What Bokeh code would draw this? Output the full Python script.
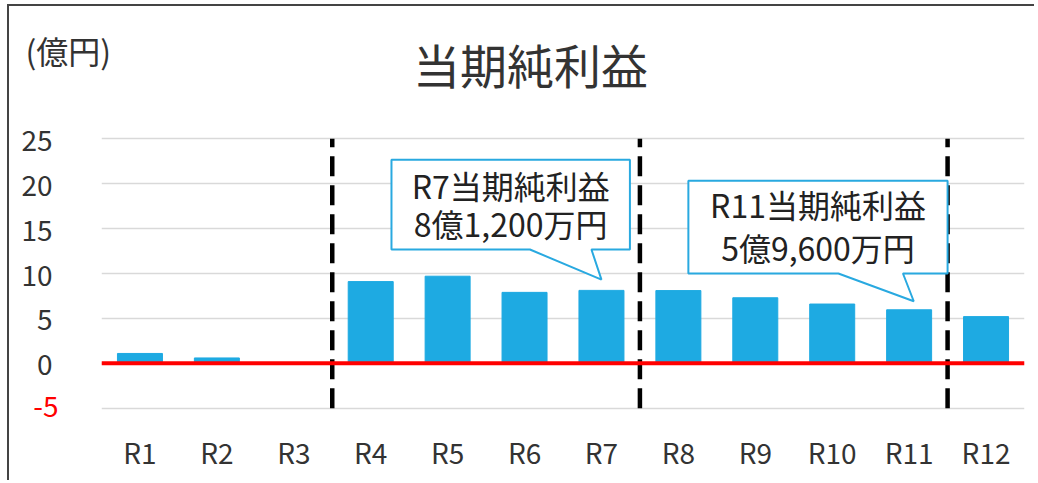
from bokeh.plotting import figure
from bokeh.models import Range1d, FixedTicker, Span, Label
from bokeh.embed import file_html
from bokeh.resources import INLINE

# ---- data ----
categories = ["R1", "R2", "R3", "R4", "R5", "R6", "R7", "R8", "R9", "R10", "R11", "R12"]
net_income = [1.1, 0.6, 0.0, 9.1, 9.7, 7.9, 8.12, 8.1, 7.3, 6.6, 5.96, 5.2]  # 億円
y_ticks = [-5, 0, 5, 10, 15, 20, 25]
separators = [3.5, 7.5, 11.5]          # boundaries between eras
callout_targets = ["R7", "R11"]
title_text = "当期純利益"
unit_text = "(億円)"

FONT = "Noto Sans CJK JP"
TXT = "#333333"
BLUE = "#1EAAE2"

xs = list(range(1, len(categories) + 1))
W, H = 1034, 480
ML, MR, MT, MB = 101, 10, 135, 70
Y0, Y1 = -5.25, 25.25
px_per_unit = (H - MT - MB) / (Y1 - Y0)
TITLE_FS, SMALL_FS = 47, 28

p = figure(width=W, height=H, output_backend="svg", toolbar_location=None,
           x_range=Range1d(0.5, len(categories) + 0.5), y_range=Range1d(Y0, Y1),
           min_border_left=ML, min_border_right=MR, min_border_top=MT, min_border_bottom=MB)
p.outline_line_color = None
p.background_fill_color = "white"
p.border_fill_color = None
p.styles = {
    "background-color": "white",
    "background-image": "linear-gradient(#444444, #444444), linear-gradient(#444444, #444444)",
    "background-size": "2px 100%, 100% 2px",
    "background-position": "7px 4px, 7px 4px",
    "background-repeat": "no-repeat",
}

# axes
p.xaxis.ticker = FixedTicker(ticks=xs)
p.xaxis.major_label_overrides = {x: c for x, c in zip(xs, categories)}
p.yaxis.ticker = FixedTicker(ticks=y_ticks)
p.yaxis.major_label_overrides = {-5: " "}
for ax in (p.xaxis[0], p.yaxis[0]):
    ax.axis_line_color = None
    ax.major_tick_line_color = None
    ax.minor_tick_line_color = None
    ax.major_label_text_font = FONT
    ax.major_label_text_font_size = f"{SMALL_FS}px"
    ax.major_label_text_color = TXT
p.yaxis.major_label_standoff = 43
p.xaxis.major_label_standoff = 15

p.xgrid.visible = False
p.ygrid.ticker = FixedTicker(ticks=y_ticks)
p.ygrid.grid_line_color = "#d9d9d9"
p.ygrid.grid_line_width = 1.5

# bars
p.vbar(x=xs, top=net_income, bottom=0, width=0.585, fill_color=BLUE, line_color=BLUE)

# zero line
p.add_layout(Span(location=0, dimension="width", line_color="#ff0000", line_width=4))

# era separators
p.segment(x0=separators, y0=[y_ticks[0]] * len(separators), x1=separators,
          y1=[y_ticks[-1]] * len(separators),
          line_color="black", line_width=4.5, line_dash="20 9")

# texts outside the frame live in the top side panel (stacked outward from the frame)
h_title = 1.2 * TITLE_FS
h_small = 1.2 * SMALL_FS
# 1) title, panel bottom = frame top
p.add_layout(Label(x=530 - ML, y=MT - 62, x_units="screen", y_units="screen",
                   text=title_text, text_align="center", text_baseline="middle",
                   text_font=FONT, text_font_size=f"{TITLE_FS}px", text_color=TXT), "above")
# 2) red "-5" tick label
minus5_y = MT + (Y1 - y_ticks[0]) * px_per_unit          # canvas y of the -5 tick
p.add_layout(Label(x=-43, y=(MT - h_title) - minus5_y - 10, x_units="screen", y_units="screen",
                   text="-5", text_align="right", text_baseline="middle", text_font=FONT,
                   text_font_size=f"{SMALL_FS}px", text_color="#ff0000"), "above")
# 3) unit
p.add_layout(Label(x=25 - ML, y=(MT - h_title - h_small) - 48, x_units="screen", y_units="screen",
                   text=unit_text, text_align="left", text_baseline="middle",
                   text_font=FONT, text_font_size="32px", text_color=TXT), "above")

# callouts (box geometry relative to the targeted bar)
layouts = {
    "R7": dict(left=-2.73, right=0.37, top=22.67, bottom=12.67, t0=-0.93, t1=-0.13, tipdx=0.0,
               tipdy=1.2, lines=(19.9, 15.6)),
    "R11": dict(left=-2.87, right=0.50, top=20.33, bottom=10.0, t0=-0.92, t1=-0.08, tipdx=0.06,
                tipdy=0.95, lines=(17.7, 13.0)),
}
for cat in callout_targets:
    i = categories.index(cat)
    cx = xs[i]
    v = net_income[i]
    L = layouts[cat]
    oku = int(v)
    man = int(round((v - oku) * 10000))
    line1 = f"{cat}{title_text}"
    line2 = f"{oku}億{man:,}万円"
    bx = [cx + L["left"], cx + L["right"], cx + L["right"], cx + L["t1"], cx + L["tipdx"],
          cx + L["t0"], cx + L["left"]]
    by = [L["top"], L["top"], L["bottom"], L["bottom"], v + L["tipdy"], L["bottom"], L["bottom"]]
    p.patch(bx, by, fill_color="white", line_color="#29A9E0", line_width=2)
    mid = cx + (L["left"] + L["right"]) / 2
    for txt, yy in zip((line1, line2), L["lines"]):
        p.add_layout(Label(x=mid, y=yy, text=txt, text_align="center", text_baseline="middle",
                           text_font=FONT, text_font_size="32px", text_color="#222222"))

open("out.html", "w").write(file_html(p, INLINE))
